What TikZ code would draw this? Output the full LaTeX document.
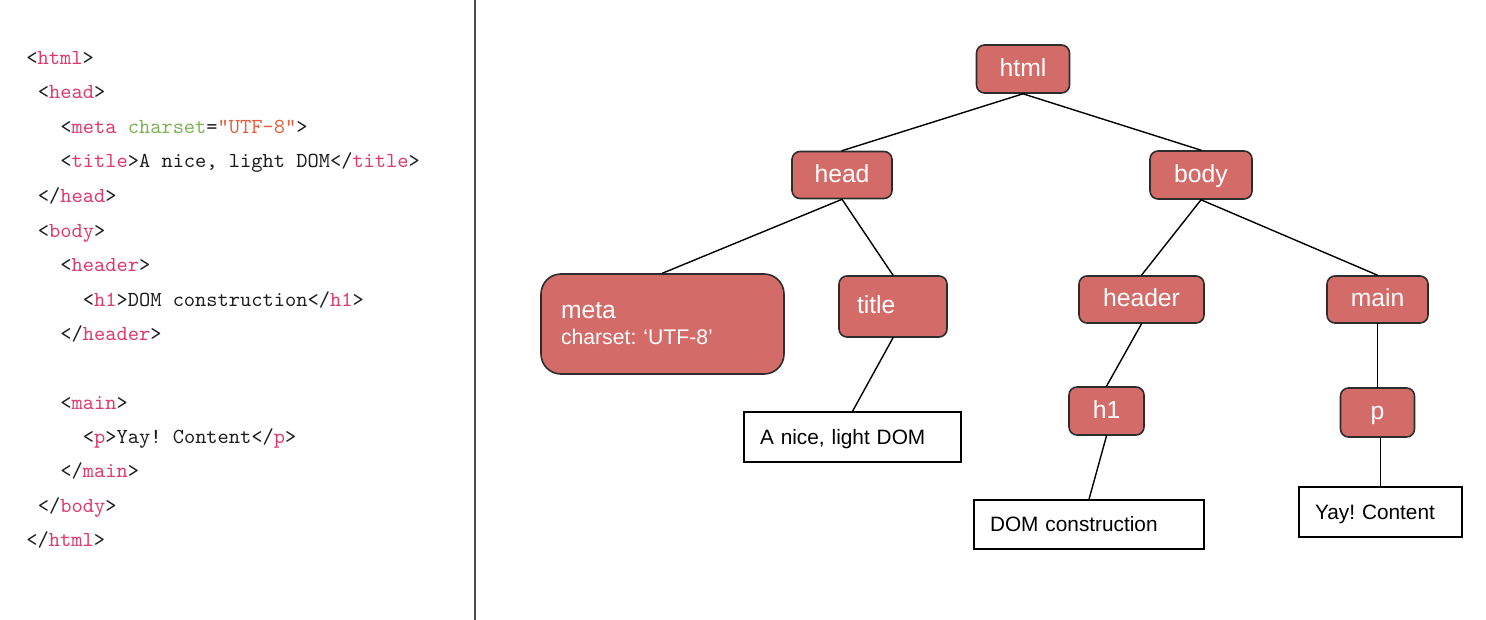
\documentclass[tikz,border=0pt]{standalone}
\usepackage{fontspec}
\setmainfont{Liberation Sans}
\usepackage{tikz}
\usepackage{xcolor}

\definecolor{tagcol}{RGB}{222,57,108}
\definecolor{attrcol}{RGB}{126,178,84}
\definecolor{strcol}{RGB}{226,94,60}
\definecolor{punct}{RGB}{30,30,30}
\definecolor{elemfill}{RGB}{211,108,105}
\definecolor{elemline}{RGB}{45,45,45}

\newcommand{\htag}[1]{\textcolor{tagcol}{#1}}
\newcommand{\hattr}[1]{\textcolor{attrcol}{#1}}
\newcommand{\hstr}[1]{\textcolor{strcol}{#1}}

\begin{document}
\frenchspacing
\begin{tikzpicture}[x=0.5pt,y=-0.5pt,line cap=round,
  code/.style={anchor=base west,inner sep=0pt,text=punct,font=\ttfamily\fontsize{10.7}{12}\selectfont},
  elembase/.style={draw=elemline,line width=0.8pt,fill=elemfill,rounded corners=4pt,text=white,
    inner sep=0pt,font=\fontsize{12.35}{14}\selectfont},
  elem/.style={elembase,text height=0.9em,text depth=0.18em},
  txtbox/.style={draw=black,line width=0.7pt,fill=white,inner xsep=8pt,inner ysep=0pt,
    minimum height=25pt,align=left,text height=0.9em,text depth=0.18em,
    font=\fontsize{10.4}{12}\selectfont},
  edge/.style={draw=black,line width=0.7pt}]
\useasboundingbox (0,0) rectangle (1486,620);

% source
\node[code] (l1) at (26,65) {<\htag{html}>};
\node[code] (l2) at (37.5,99) {<\htag{head}>};
\node[code] (l3) at (60,134) {<\htag{meta} \hattr{charset}=\hstr{"UTF-8"}>};
\node[code] (l4) at (60,168) {<\htag{title}>A nice, light DOM</\htag{title}>};
\node[code] (l5) at (37.5,203) {</\htag{head}>};
\node[code] (l6) at (37.5,237) {<\htag{body}>};
\node[code] (l7) at (60,271) {<\htag{header}>};
\node[code] (l8) at (82.5,306) {<\htag{h1}>DOM construction</\htag{h1}>};
\node[code] (l9) at (60,340) {</\htag{header}>};
\node[code] (l10) at (60,409) {<\htag{main}>};
\node[code] (l11) at (82.5,443) {<\htag{p}>Yay! Content</\htag{p}>};
\node[code] (l12) at (60,477) {</\htag{main}>};
\node[code] (l13) at (37.5,512) {</\htag{body}>};
\node[code] (l14) at (26,546) {</\htag{html}>};

% divider
\coordinate (divtop) at (475,0);
\coordinate (divbot) at (475,620);
\draw[line width=1pt,black!70] (divtop) -- (divbot);

% tree
\node[elem,minimum width=46.5pt,minimum height=24pt] (html) at (1023,69) {html};
\node[elem,minimum width=50pt,minimum height=23.5pt] (head) at (842,175) {head};
\node[elem,minimum width=51pt,minimum height=24pt] (body) at (1201,175) {body};
\node[elembase,rounded corners=10pt,minimum width=121.5pt,minimum height=50pt,inner xsep=10pt,
  text width=101.5pt,align=left,font=\fontsize{10.6}{13}\selectfont] (meta) at (662.5,324)
  {{\fontsize{12.35}{13}\selectfont meta}\\charset: ‘UTF-8’};
\node[elem,minimum width=54pt,minimum height=30.5pt,inner xsep=9pt,text width=36pt,align=left]
  (title) at (893,306.5) {title};
\node[elem,minimum width=62.5pt,minimum height=23.5pt] (header) at (1141.5,299.5) {header};
\node[elem,minimum width=50.5pt,minimum height=23.5pt] (main) at (1377.5,299.5) {main};
\node[elem,minimum width=37.5pt,minimum height=24pt] (h1) at (1106.5,411) {h1};
\node[elem,minimum width=37pt,minimum height=24.5pt] (p) at (1377.5,412.5) {p};
\node[txtbox,text width=92.5pt] (tnice) at (852.5,437) {A nice, light DOM};
\node[txtbox,text width=99pt,minimum height=24.5pt] (tdom) at (1089,524.5) {DOM construction};
\node[txtbox,text width=65.5pt] (tyay) at (1380.5,512) {Yay! Content};

\draw[edge] (html.south) -- (head.north);
\draw[edge] (html.south) -- (body.north);
\draw[edge] (head.south) -- (meta.north);
\draw[edge] (head.south) -- (title.north);
\draw[edge] (body.south) -- (header.north);
\draw[edge] (body.south) -- (main.north);
\draw[edge] (title.south) -- (tnice.north);
\draw[edge] (header.south) -- (h1.north);
\draw[edge] (h1.south) -- (tdom.north);
\draw[edge] (main.south) -- (p.north);
\draw[edge] (tyay.north) -- (tyay.north |- p.south);
\end{tikzpicture}
\end{document}
